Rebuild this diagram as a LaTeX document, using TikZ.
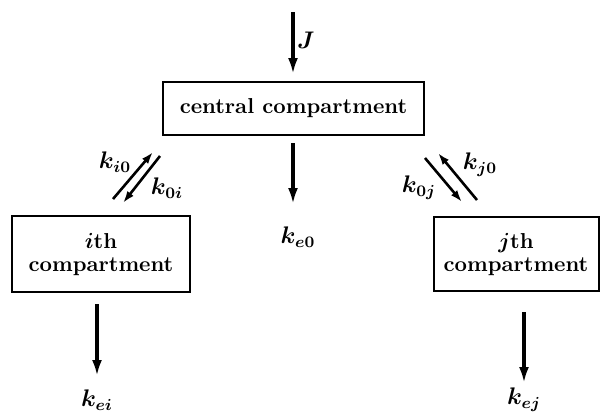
\documentclass[tikz,border=0pt]{standalone}
\usepackage{bm}
\usetikzlibrary{arrows.meta,positioning}
\tikzset{
  compbox/.style={draw=black, line width=1pt, font=\fontsize{10.8}{11.5}\selectfont\bfseries, align=center, inner sep=2pt},
  flow/.style={-{Latex[length=8pt, width=5pt]}, line width=1.8pt},
  exchange/.style={-{Latex[length=6pt, width=4pt]}, line width=1.3pt},
  rate/.style={font=\fontsize{12}{14}\selectfont\boldmath, inner sep=1pt}
}
\begin{document}
\begin{tikzpicture}[x=0.5pt, y=-0.5pt]
  \useasboundingbox (0,0) rectangle (601,414);
  % compartments
  \node[compbox, minimum width=130.5pt, minimum height=26.5pt] (central) at (293.5,108.5) {central compartment};
  \node[compbox, minimum width=89pt, minimum height=38pt] (ith) at (101,254) {$\bm{i}$th\\compartment};
  \node[compbox, minimum width=82.5pt, minimum height=37pt] (jth) at (516,254) {$\bm{j}$th\\compartment};
  % rate labels
  \node[rate] (J) at (306,40) {$J$};
  \node[rate] (ke0) at (298,237) {$k_{e0}$};
  \node[rate] (kei) at (97,400) {$k_{ei}$};
  \node[rate] (kej) at (524,400) {$k_{ej}$};
  \node[rate] (ki0) at (115,162) {$k_{i0}$};
  \node[rate] (k0i) at (167,188) {$k_{0i}$};
  \node[rate] (k0j) at (419,188) {$k_{0j}$};
  \node[rate] (kj0) at (480,165) {$k_{j0}$};
  % free ends
  \coordinate (jin) at (293,12);
  \coordinate (eout) at (293,204);
  \coordinate (iout) at (97,376);
  \coordinate (jout) at (524,383);
  \coordinate (a1) at (113,199); \coordinate (a2) at (153,152);
  \coordinate (b1) at (160,156); \coordinate (b2) at (123,203);
  \coordinate (c1) at (425,158); \coordinate (c2) at (462,202);
  \coordinate (d1) at (477,200); \coordinate (d2) at (438,153);
  % flows
  \draw[flow, shorten >=3.5pt] (jin) -- (central.north -| jin);
  \draw[flow, shorten <=3.5pt] (central.south -| eout) -- (eout);
  \draw[flow, shorten <=5.5pt] (ith.south -| iout) -- (iout);
  \draw[flow, shorten <=10pt] (jth.south -| jout) -- (jout);
  \draw[exchange] (a1) -- (a2);
  \draw[exchange] (b1) -- (b2);
  \draw[exchange] (c1) -- (c2);
  \draw[exchange] (d1) -- (d2);
\end{tikzpicture}
\end{document}
